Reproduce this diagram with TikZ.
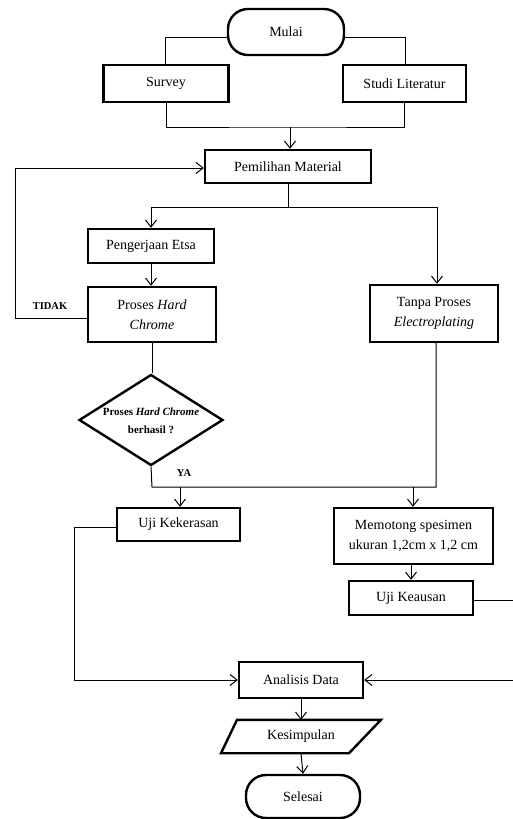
\documentclass[tikz,border=0pt]{standalone}
\usepackage{fontspec}
\setmainfont{Liberation Serif}
\usetikzlibrary{arrows.meta,shapes.geometric}
\begin{document}
\begin{tikzpicture}[x=1pt,y=-1pt,
  font=\fontsize{14}{20}\selectfont,
  box/.style={draw,line width=2.4pt,inner sep=0pt,align=center},
  term/.style={box,rounded corners=20pt},
  conn/.style={line width=1pt},
  arr/.style={conn,-{Straight Barb[length=7pt,width=11pt,line width=1pt]}},
  lbl/.style={font=\fontsize{10.5}{12}\selectfont\bfseries}
]
\useasboundingbox (0,0) rectangle (513,819);
% nodes
\node[term,minimum width=116,minimum height=46] (mulai) at (286,32) {Mulai};
\node[box,minimum width=125,minimum height=37] (survey) at (166,83.5) {Survey};
\node[box,minimum width=123,minimum height=37] (studi) at (404.5,83.5) {Studi Literatur};
\node[box,minimum width=166,minimum height=33] (pem) at (288,166.5) {Pemilihan Material};
\node[box,minimum width=126,minimum height=34] (etsa) at (151,246) {Pengerjaan Etsa};
\node[box,minimum width=128,minimum height=55] (hc) at (152,314.5) {Proses \textit{Hard}\\\textit{Chrome}};
\node[box,minimum width=128,minimum height=57] (tanpa) at (434,313.5) {Tanpa Proses\\\textit{Electroplating}};
\node[box,shape=diamond,minimum width=144,minimum height=91] (dia) at (151,420) {};
\node[font=\fontsize{11}{18}\selectfont\bfseries,align=center] (diatext) at (151,421) {Proses \textit{Hard Chrome}\\berhasil ?};
\node[box,minimum width=123,minimum height=33] (ujik) at (178.5,524.5) {Uji Kekerasan};
\node[box,minimum width=159,minimum height=56] (memo) at (413.5,536) {Memotong spesimen\\ukuran 1,2cm x 1,2 cm};
\node[box,minimum width=124,minimum height=34] (keaus) at (411,598) {Uji Keausan};
\node[box,minimum width=124,minimum height=36] (ana) at (301,680) {Analisis Data};
\node[inner sep=0pt,minimum width=144,minimum height=33] (kes) at (301,736.5) {Kesimpulan};
\draw[line width=2.4pt,line join=miter] ([xshift=-64pt]kes.north) -- ([xshift=80pt]kes.north) -- ([xshift=48pt]kes.south) -- ([xshift=-80pt]kes.south) -- cycle;
\node[term,minimum width=114,minimum height=43] (sel) at (303,796.5) {Selesai};
\node[lbl] (tidak) at (50,306) {TIDAK};
\node[lbl] (ya) at (184,473) {YA};
% coordinates
\coordinate (ml) at (165,37);
\coordinate (mr) at (405,37);
\coordinate (j1) at (290,127);
\coordinate (b1) at (288,207);
\coordinate (bl) at (151,207);
\coordinate (br) at (437,207);
\coordinate (fb) at (15,318);
\coordinate (fbt) at (15,168);
\coordinate (yl) at (152,487);
\coordinate (yr) at (436,487);
\coordinate (ya1) at (180,487);
\coordinate (ya2) at (413,487);
\coordinate (lk) at (74,527);
\coordinate (rk) at (517,600);
% connectors
\draw[conn] (ml -| mulai.west) -- (ml) -- (ml |- survey.north);
\draw[conn] (mr -| mulai.east) -- (mr) -- (mr |- studi.north);
\draw[conn] (survey.south) |- (j1) -| (studi.south);
\draw[arr] (j1) -- (j1 |- pem.north);
\draw[arr] (fb -| hc.west) -- (fb) -- (fbt) -- (fbt -| pem.west);
\draw[conn] (pem.south) -- (b1);
\draw[conn] (bl) -- (br);
\draw[arr] (bl) -- (etsa.north);
\draw[arr] (br) -- (br |- tanpa.north);
\draw[arr] (etsa.south) -- (etsa.south |- hc.north);
\draw[conn] (hc.south) -- (hc.south |- dia.north);
\draw[conn] (dia.south) -- (yl) -- (yr) -- (yr |- tanpa.south);
\draw[arr] (ya1) -- (ya1 |- ujik.north);
\draw[arr] (ya2) -- (ya2 |- memo.north);
\draw[arr] (memo.south -| keaus.north) -- (keaus.north);
\draw[arr] (lk -| ujik.west) -- (lk) |- (ana.west);
\draw[arr] (rk -| keaus.east) -- (rk) |- (ana.east);
\draw[arr] (ana.south) -- (kes.north);
\draw[arr] (kes.south) -- (sel.north);
\end{tikzpicture}
\end{document}
